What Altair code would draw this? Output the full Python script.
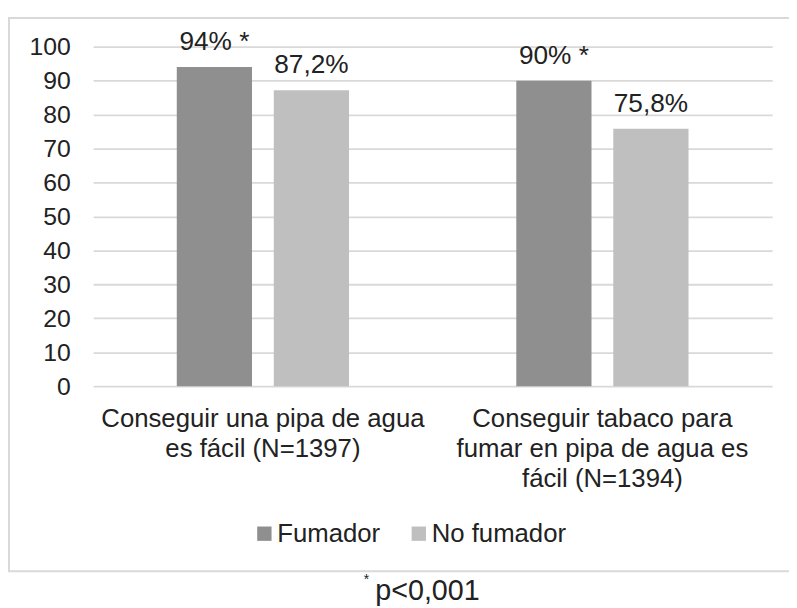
import altair as alt
import pandas as pd

categories = ["Conseguir una pipa de agua|es fácil (N=1397)",
              "Conseguir tabaco para|fumar en pipa de agua es|fácil (N=1394)"]
series = ["Fumador", "No fumador"]
fumador = [94, 90]
no_fumador = [87.2, 75.8]
significant = [True, True]
footnote = "p<0,001"

rows = []
for i, c in enumerate(categories):
    for s, vals in zip(series, [fumador, no_fumador]):
        v = vals[i]
        lab = (f"{v:g}".replace(".", ",")) + "%"
        if s == "Fumador" and significant[i]:
            lab += " *"
        rows.append({"cat": c, "series": s, "value": v, "label": lab})
df = pd.DataFrame(rows)

FONT = "Liberation Sans"

x_enc = alt.X("cat:N", sort=categories, title=None,
              scale=alt.Scale(paddingInner=0.4927, paddingOuter=0.2464),
              axis=alt.Axis(labelExpr="split(datum.value, '|')", labelAngle=0,
                            labelFontSize=26, labelFont=FONT, labelColor="#222222",
                            labelLineHeight=30, labelPadding=20, labelLimit=500,
                            ticks=False, tickSize=0, domain=False, grid=False,
                            labelOverlap=False))
xo_enc = alt.XOffset("series:N", sort=series,
                     scale=alt.Scale(paddingInner=0.2245, paddingOuter=0))
y_enc = alt.Y("value:Q", title=None,
              scale=alt.Scale(domain=[0, 100], nice=False),
              axis=alt.Axis(values=list(range(0, 101, 10)), labelFontSize=25,
                            labelFont=FONT, labelColor="#222222", labelPadding=23,
                            ticks=False, tickSize=0, domain=False, grid=True,
                            gridColor="#d9d9d9", gridWidth=1.8))

bars = alt.Chart(df).mark_bar().encode(
    x=x_enc, xOffset=xo_enc, y=y_enc,
    color=alt.Color("series:N", sort=series,
                    scale=alt.Scale(domain=series, range=["#8f8f8f", "#bfbfbf"]),
                    legend=alt.Legend(title=None, orient="none", legendX=160, legendY=479,
                                      direction="horizontal", symbolType="square",
                                      symbolSize=210, symbolStrokeWidth=0,
                                      labelFontSize=26, labelFont=FONT, labelColor="#222222",
                                      labelOffset=0, columnPadding=25, padding=0))
)

texts = alt.Chart(df).mark_text(baseline="alphabetic", dy=-17, fontSize=26.5,
                                font=FONT, color="#222222").encode(
    x=x_enc, xOffset=xo_enc, y=y_enc, text="label:N")

border_df = pd.DataFrame({"k": [0]})
border = alt.Chart(border_df).mark_rect(fillOpacity=0, stroke="#d9d9d9", strokeWidth=2).encode(
    x=alt.value(-85), x2=alt.value(730), y=alt.value(-29), y2=alt.value(530))

foot_df = pd.DataFrame({"t": [footnote]})
foot = alt.Chart(foot_df).mark_text(align="left", baseline="alphabetic", fontSize=29,
                                    font=FONT, color="#222222").encode(
    x=alt.value(285), y=alt.value(559), text="t:N")
star = alt.Chart(foot_df).mark_text(align="center", baseline="middle", fontSize=14,
                                    font=FONT, color="#222222").encode(
    x=alt.value(276), y=alt.value(539), text=alt.value("*"))

chart = alt.layer(border, bars, texts, foot, star).properties(
    width=686, height=343,
    autosize=alt.AutoSizeParams(type="none"),
    padding={"left": 86, "top": 36, "right": 17, "bottom": 221},
    background="white",
).configure_view(stroke=None)

chart.save("out.html", embed_options={"renderer": "svg", "actions": False})
